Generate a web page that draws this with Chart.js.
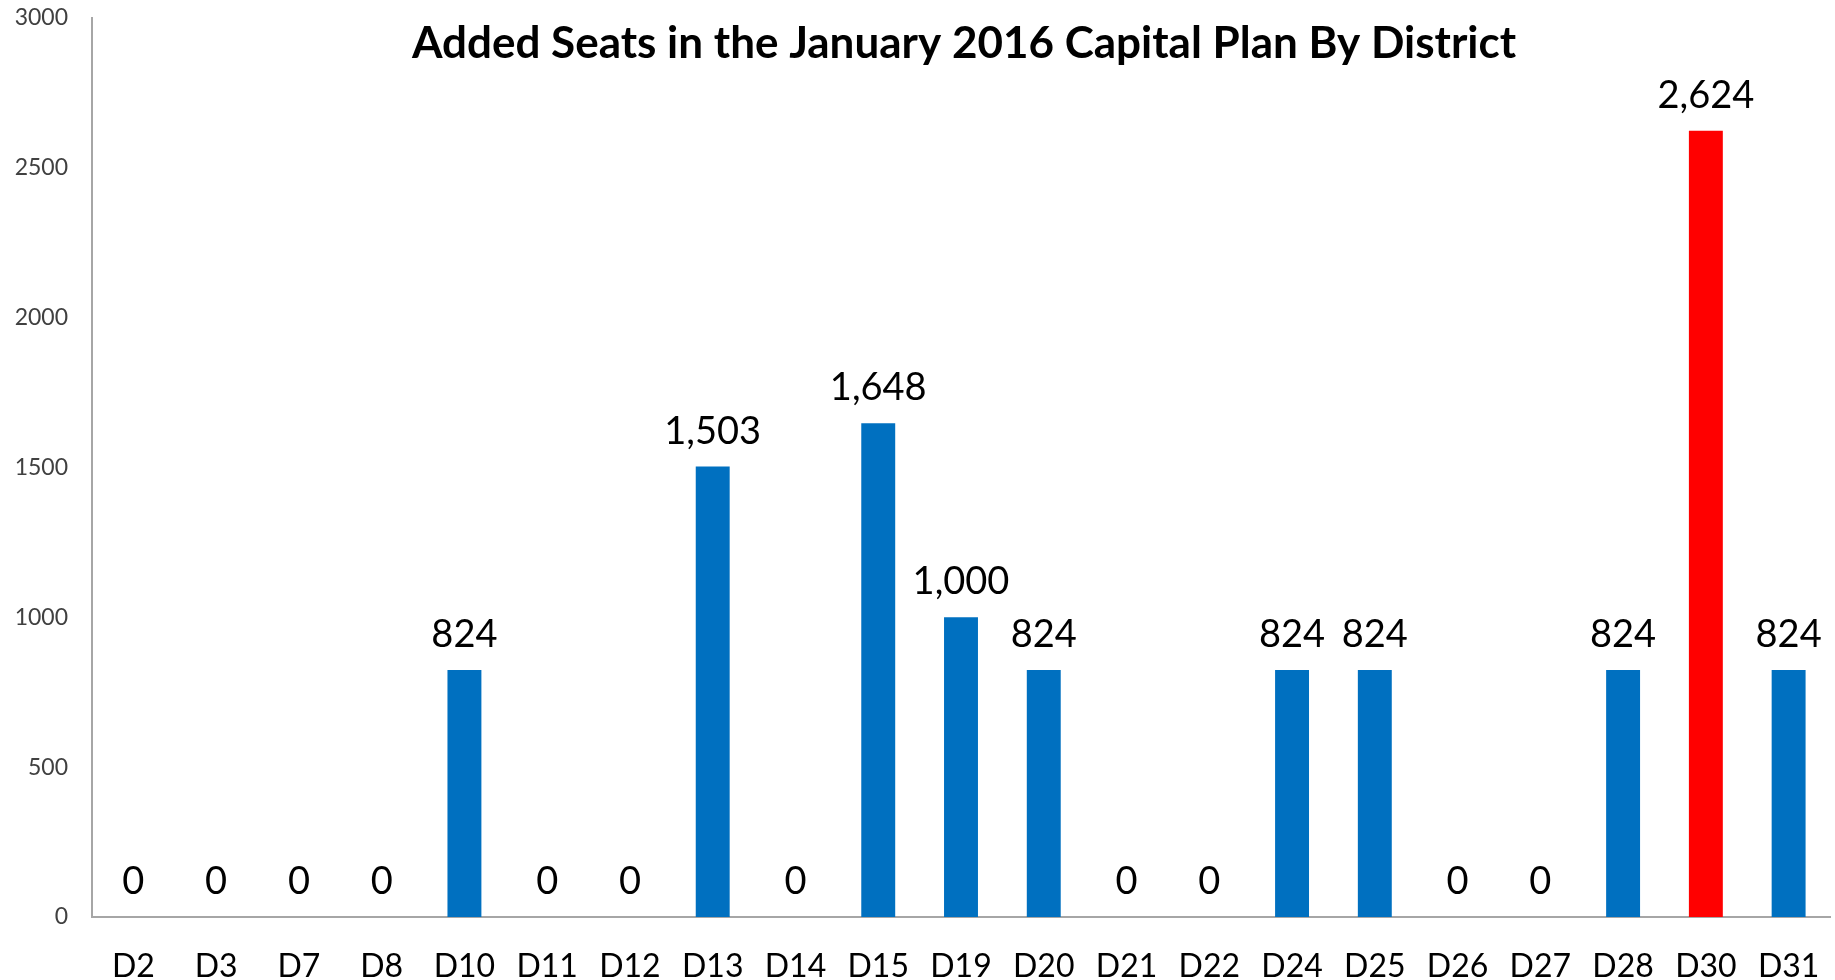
<!DOCTYPE html>
<html lang="en">
<head>
    <meta charset="UTF-8">
    <title>Added Seats by District</title>
    <script src="https://cdn.jsdelivr.net/npm/chart.js"></script>
    <style>
        html, body { margin: 0; padding: 0; background: #ffffff; overflow: hidden; }
        #wrap { position: relative; width: 1835px; height: 980px; }
        #myChart { display: block; }
    </style>
</head>
<body>
    <div id="wrap">
        <canvas id="myChart" width="1835" height="980"></canvas>
    </div>

<script>
    const districts = ['D2', 'D3', 'D7', 'D8', 'D10', 'D11', 'D12', 'D13', 'D14', 'D15', 'D19',
        'D20', 'D21', 'D22', 'D24', 'D25', 'D26', 'D27', 'D28', 'D30', 'D31']
    const addedSeats = [0, 0, 0, 0, 824, 0, 0, 1503, 0, 1648, 1000,
        824, 0, 0, 824, 824, 0, 0, 824, 2624, 824]
    const highlight = 'D30'
    const yTicks = [0, 500, 1000, 1500, 2000, 2500, 3000]
    const chartTitle = 'Added Seats in the January 2016 Capital Plan By District'

    const barColors = districts.map(d => d === highlight ? '#FF0000' : '#0070C0')

    // value labels above each bar
    const valueLabels = {
        id: 'valueLabels',
        afterDatasetsDraw(chart) {
            const ctx = chart.ctx
            const meta = chart.getDatasetMeta(0)
            ctx.save()
            ctx.font = '38px Lato'
            ctx.fillStyle = '#000000'
            ctx.textAlign = 'center'
            ctx.textBaseline = 'alphabetic'
            meta.data.forEach((bar, i) => {
                ctx.fillText(addedSeats[i].toLocaleString('en-US'), bar.x, bar.y - 23)
            })
            ctx.restore()
        }
    }

    // title sits inside the plot area
    const innerTitle = {
        id: 'innerTitle',
        afterDraw(chart) {
            const ctx = chart.ctx
            const area = chart.chartArea
            ctx.save()
            ctx.font = 'bold 44px Lato'
            ctx.fillStyle = '#000000'
            ctx.textAlign = 'center'
            ctx.textBaseline = 'alphabetic'
            ctx.fillText(chartTitle, (area.left + area.right) / 2 + 3, 58)
            ctx.restore()
        }
    }

    const config = {
        type: 'bar',
        data: {
            labels: districts,
            datasets: [{
                data: addedSeats,
                backgroundColor: barColors,
                borderWidth: 0,
                categoryPercentage: 1,
                barPercentage: 0.41
            }]
        },
        options: {
            responsive: false,
            animation: false,
            layout: { padding: { top: 18, right: 5 } },
            plugins: {
                legend: { display: false },
                tooltip: { enabled: false },
                title: { display: false }
            },
            scales: {
                x: {
                    grid: { display: false, drawTicks: false },
                    border: { display: true, color: '#A6A6A6', width: 2 },
                    ticks: {
                        color: '#000000',
                        font: { family: 'Lato', size: 32 },
                        padding: 30,
                        maxRotation: 0,
                        autoSkip: false
                    },
                    afterFit(scale) {
                        scale.height = 63
                        scale.paddingLeft = 0
                        scale.paddingRight = 0
                    }
                },
                y: {
                    min: 0,
                    max: 3000,
                    afterBuildTicks(scale) { scale.ticks = yTicks.map(v => ({ value: v })) },
                    grid: { display: false, drawTicks: false },
                    border: { display: true, color: '#A6A6A6', width: 2 },
                    ticks: {
                        color: '#404040',
                        font: { family: 'Lato', size: 23 },
                        padding: 24,
                        callback: v => String(v)
                    },
                    afterFit(scale) {
                        scale.width = 92
                        scale.paddingTop = 0
                        scale.paddingBottom = 0
                    }
                }
            }
        },
        plugins: [valueLabels, innerTitle]
    }

    const myChart = new Chart(document.getElementById('myChart'), config)
</script>
</body>
</html>
